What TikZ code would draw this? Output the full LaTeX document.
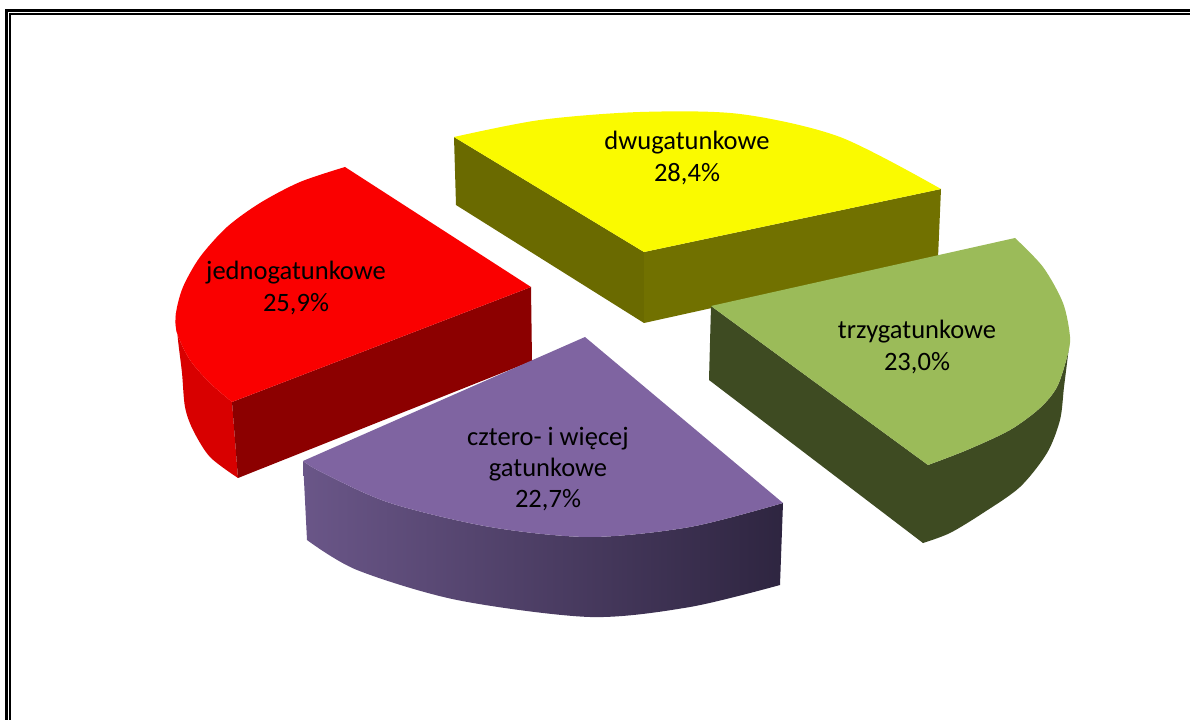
\documentclass[tikz,border=0pt]{standalone}
\usepackage{fontspec}
\setmainfont{Carlito}
\definecolor{redtop}{HTML}{FA0000}
\definecolor{redside}{HTML}{D80000}
\definecolor{redcut}{HTML}{8C0000}
\definecolor{yeltop}{HTML}{FAFA00}
\definecolor{yelcutA}{HTML}{6A6A00}
\definecolor{yelcutB}{HTML}{717100}
\definecolor{grntop}{HTML}{9BBB59}
\definecolor{grncut}{HTML}{3E4B22}
\definecolor{grnside}{HTML}{3E4B22}
\definecolor{purtop}{HTML}{7F64A1}
\definecolor{purL}{HTML}{6A5688}
\definecolor{purR}{HTML}{2E2540}
\tikzset{
  lbl/.style={align=center, inner sep=0pt, text=black,
    font=\fontsize{19.9pt}{23.3pt}\selectfont},
}
\begin{document}
\begin{tikzpicture}[x=0.75pt,y=-0.75pt]
\useasboundingbox (0,0) rectangle (1190,720);
% frame
\draw[line width=1.95pt] (6.5,10.5) rectangle (1260,800);
\draw[line width=1.2pt] (10,13.8) rectangle (1260,800);

% ---------- yellow (dwugatunkowe) ----------
\fill[yelcutA] (454,137) -- (644,252) -- (644,323) -- (456,205) -- cycle;
\fill[yelcutB] (644,252) -- (941,189) -- (938,258) -- (644,323) -- cycle;
\fill[yeltop] (644,252) -- (454,137) -- plot[smooth] coordinates {(454,137) (540,120) (640,112) (740,114) (840,137) (941,189)} -- cycle;

% ---------- red (jednogatunkowe) ----------
\fill[redside] plot[smooth] coordinates {(176,313) (177,333) (190,360) (210,383) (232,402)} -- (238,478)
  -- plot[smooth] coordinates {(238,478) (210,457) (193,430) (185,407) (182,373) (178,340) (176,313)} -- cycle;
\fill[redcut] (531,287) -- (232,402) -- (238,478) -- (532,361) -- cycle;
\fill[redtop] (531,287) -- (345,167) -- plot[smooth] coordinates {(345,167) (300,182) (260,203) (227,227) (200,257) (183,287) (176,313) (177,333) (190,360) (210,383) (232,402)} -- cycle;

% ---------- green (trzygatunkowe) ----------
\fill[grnside] plot[smooth] coordinates {(1070,337) (1067,357) (1057,387) (1040,408) (1010,430) (967,450) (928,465)} -- (921,465) -- (921,540) -- (923,543)
  -- plot[smooth] coordinates {(923,543) (950,533) (983,513) (1020,487) (1047,453) (1060,420) (1064,387) (1068,355) (1070,337)} -- cycle;
\fill[grncut] (711,306) -- (928,465) -- (923,543) -- (709,380) -- cycle;
\fill[grntop] (711,306) -- (1015,238) -- plot[smooth] coordinates {(1015,238) (1043,267) (1063,303) (1070,337) (1067,357) (1057,387) (1040,408) (1010,430) (967,450) (928,465)} -- cycle;

% ---------- purple (cztero- i wiecej) ----------
\shade[left color=purL, right color=purR] plot[smooth] coordinates {(303,461) (323,473) (390,503) (490,527) (590,537) (690,527) (783,503)} -- (780,585)
  -- plot[smooth] coordinates {(780,585) (690,607) (590,617) (457,600) (357,570) (307,540)} -- cycle;
\fill[purtop] (585,337) -- (303,461) -- plot[smooth] coordinates {(303,461) (323,473) (390,503) (490,527) (590,537) (690,527) (783,503)} -- cycle;

% ---------- labels ----------
\node[lbl] (jedno) at (296,288) {jednogatunkowe\\25,9\%};
\node[lbl] (dwu) at (687,158) {dwugatunkowe\\28,4\%};
\node[lbl] (trzy) at (917,347) {trzygatunkowe\\23,0\%};
\node[lbl] (cztero) at (548,469) {cztero- i więcej\\gatunkowe\\22,7\%};
\end{tikzpicture}
\end{document}
